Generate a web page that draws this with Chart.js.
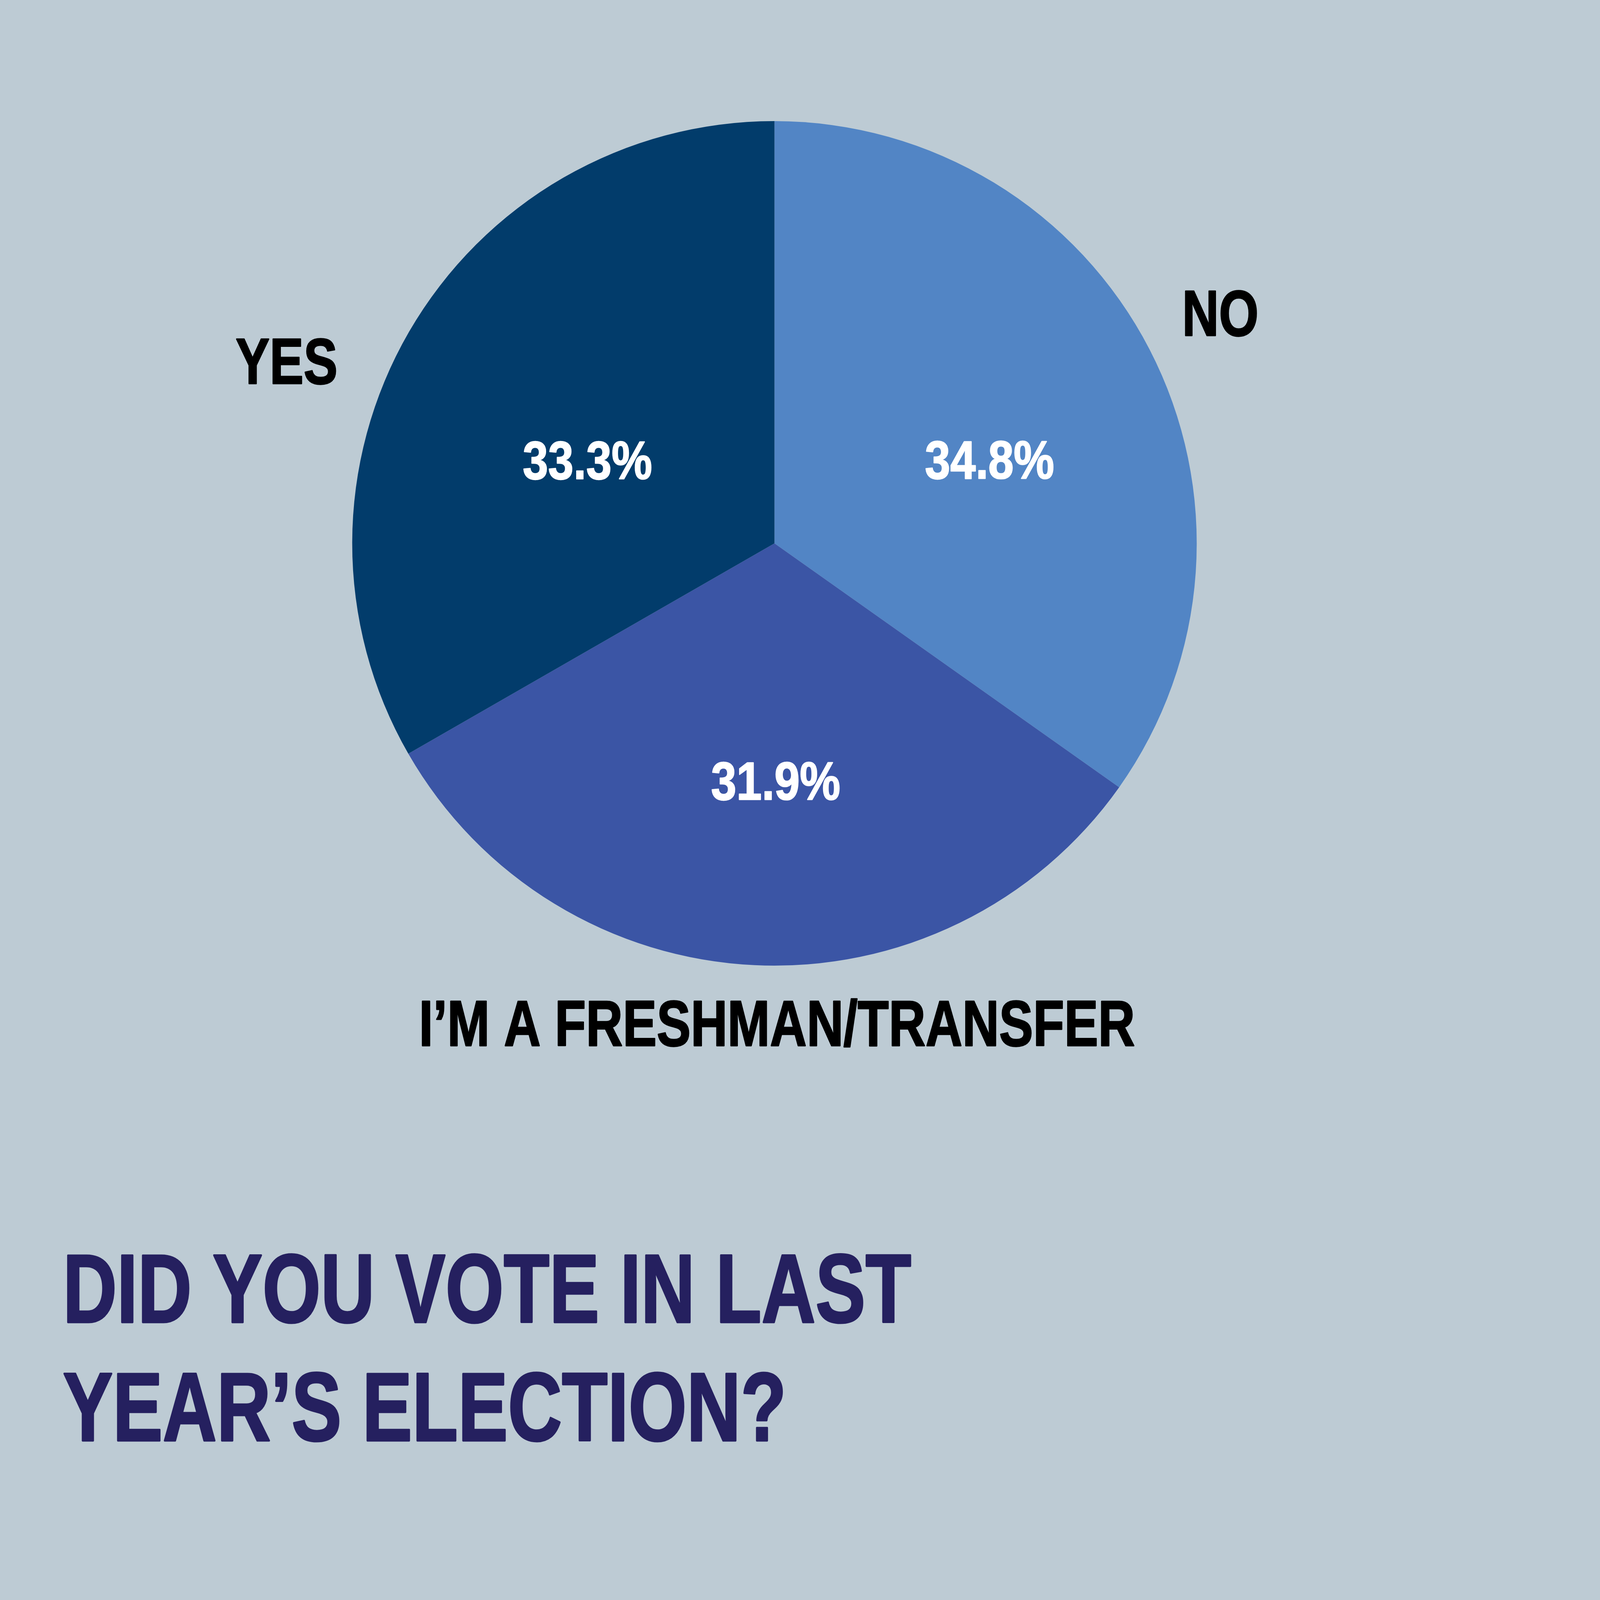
<!DOCTYPE html>
<html>
<head>
<meta charset="utf-8">
<script src="https://cdn.jsdelivr.net/npm/chart.js@4/dist/chart.umd.min.js"></script>
<style>
  html, body { margin: 0; padding: 0; background: #bdcbd4; overflow: hidden; }
  #pie { display: block; }
</style>
</head>
<body>
<canvas id="pie"></canvas>
<script>
// datos de la encuesta (en el orden del reloj, empezando arriba)
const categories = ['NO', 'I’M A FRESHMAN/TRANSFER', 'YES'];
const percents = [34.8, 31.9, 33.3];
const sliceColors = ['#5285c5', '#3b55a5', '#023c6b'];
const titleLines = ['DID YOU VOTE IN LAST', 'YEAR’S ELECTION?'];

const FONT = '"Liberation Sans", Arial, sans-serif';

// el dibujo original mide 4888 x 4571; todo se escala al tamaño real de la ventana
const canvas = document.getElementById('pie');
const W = window.innerWidth || 4888;
const H = window.innerHeight || 4571;
const s = Math.min(W / 4888, H / 4571);
canvas.width = W;
canvas.height = H;

// posiciones de etiquetas relativas al centro de cada porcion: [factor de radio, giro en grados]
const innerPos = [[0.547, 6], [0.561, -3], [0.485, -6]];
const outerPos = [[1.189, 0], [1.135, -3], [1.234, -9.5]];

// texto bold comprimido a lo ancho y algo engrosado con un trazo (imitando una letra condensada)
const drawText = (ctx, text, x, y, size, color, align, squeeze) => {
  ctx.save();
  ctx.font = `bold ${size}px ${FONT}`;
  ctx.fillStyle = color;
  ctx.strokeStyle = color;
  ctx.lineWidth = size * 0.02;
  ctx.lineJoin = 'round';
  ctx.textAlign = align;
  ctx.textBaseline = 'alphabetic';
  ctx.translate(x, y);
  ctx.scale(squeeze, 1);
  ctx.fillText(text, 0, 0);
  ctx.strokeText(text, 0, 0);
  ctx.restore();
};

const pieLabels = {
  id: 'pieLabels',
  afterDatasetsDraw(chart) {
    const ctx = chart.ctx;
    const meta = chart.getDatasetMeta(0);
    meta.data.forEach((arc, i) => {
      const p = arc.getProps(['x', 'y', 'startAngle', 'endAngle', 'outerRadius'], true);
      const mid = (p.startAngle + p.endAngle) / 2;

      // porcentaje dentro de la porcion (y = centro de las cifras)
      const a1 = mid + innerPos[i][1] * Math.PI / 180;
      const r1 = p.outerRadius * innerPos[i][0];
      const f1 = 164 * s;
      drawText(ctx, percents[i].toFixed(1) + '%', p.x + Math.cos(a1) * r1, p.y + Math.sin(a1) * r1 + f1 * 0.358, f1, '#ffffff', 'center', 0.85);

      // nombre de la categoria fuera del circulo
      const a2 = mid + outerPos[i][1] * Math.PI / 180;
      const r2 = p.outerRadius * outerPos[i][0];
      const f2 = 197 * s;
      drawText(ctx, categories[i], p.x + Math.cos(a2) * r2, p.y + Math.sin(a2) * r2 + f2 * 0.358, f2, '#000000', 'center', 0.79);
    });
  },
  afterDraw(chart) {
    const ctx = chart.ctx;
    titleLines.forEach((line, i) => {
      drawText(ctx, line, 192 * s, (4040 + i * 361) * s, 297 * s, '#25205f', 'left', 0.77);
    });
  }
};

new Chart(canvas, {
  type: 'pie',
  data: {
    labels: categories,
    datasets: [{
      data: percents,
      backgroundColor: sliceColors,
      borderWidth: 0,
      hoverOffset: 0,
      offset: 0
    }]
  },
  options: {
    responsive: false,
    devicePixelRatio: 1,
    animation: false,
    layout: { padding: { left: 1076 * s, right: W - 3656 * s, top: 370 * s, bottom: H - 2950 * s } },
    plugins: {
      legend: { display: false },
      tooltip: { enabled: false }
    }
  },
  plugins: [pieLabels]
});
</script>
</body>
</html>
